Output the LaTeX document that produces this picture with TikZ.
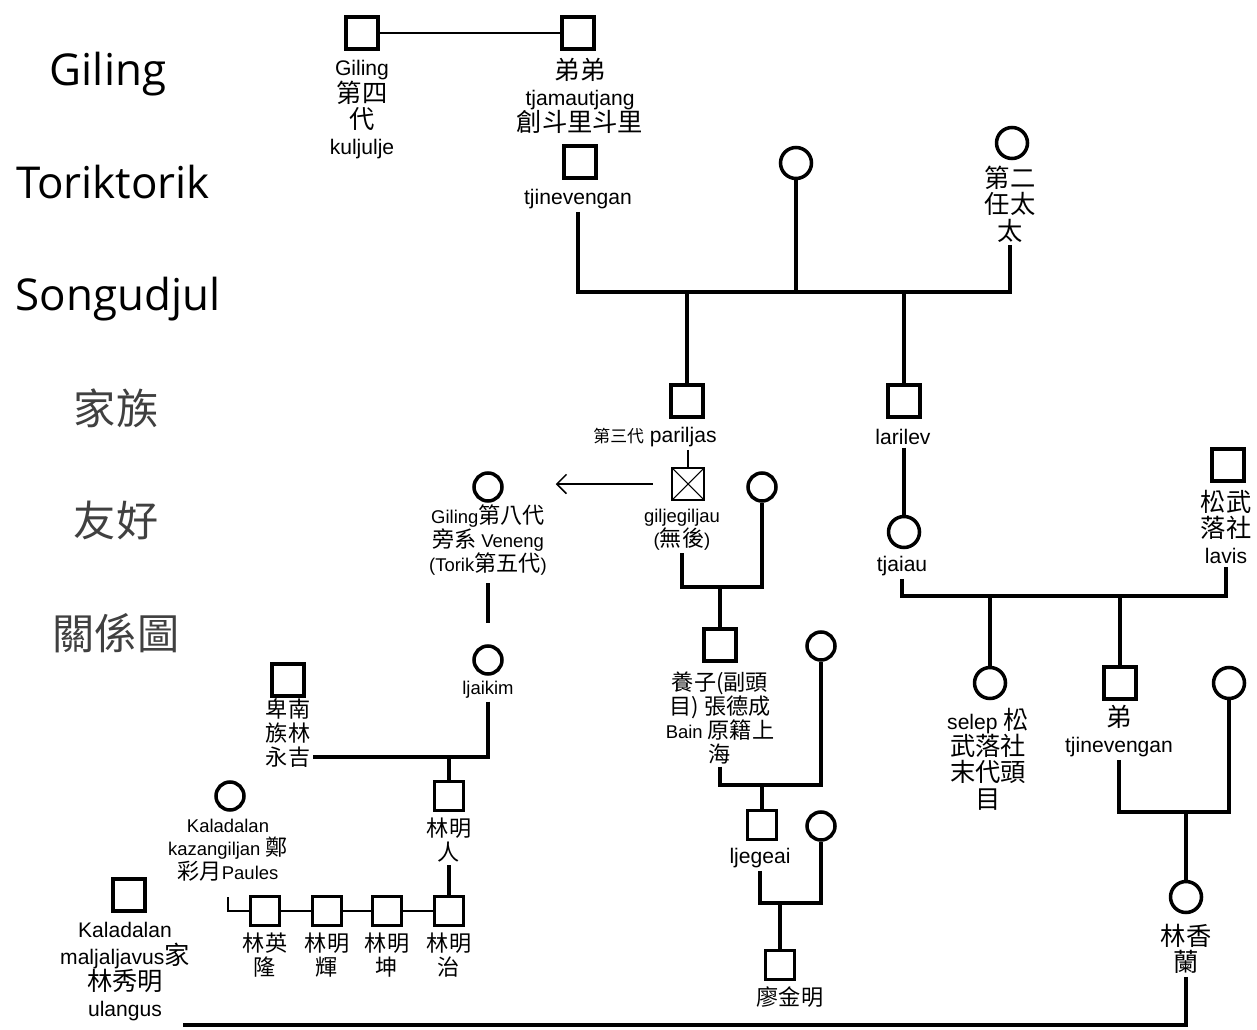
\documentclass[tikz,border=0pt]{standalone}
\usepackage{fontspec}
\setmainfont{Liberation Sans}
\newfontfamily\zhfont{Noto Sans CJK TC}[Scale=1.2]
\newfontfamily\zhsfont{Noto Sans CJK TC}[Scale=0.8]
\newfontfamily\titlefont{Open Sans}
\newfontfamily\titlezh{Noto Sans CJK TC}
\newcommand{\zh}[1]{{\zhfont #1}}
\newcommand{\zhs}[1]{{\zhsfont #1}}
\usetikzlibrary{arrows.meta}

\begin{document}
\begin{tikzpicture}[x=0.02cm,y=-0.02cm,
  man/.style={draw,line width=2.3pt,minimum size=0.64cm,inner sep=0pt},
  mans/.style={man,line width=2pt,minimum size=0.58cm},
  childless/.style={draw,line width=1.5pt,minimum size=0.64cm,inner sep=0pt,
    path picture={\draw[line width=0.6pt] (path picture bounding box.north west)--(path picture bounding box.south east)
      (path picture bounding box.north east)--(path picture bounding box.south west);}},
  woman/.style={draw,circle,line width=2pt,minimum size=0.62cm,inner sep=0pt},
  womans/.style={woman,minimum size=0.56cm},
  lbl/.style={align=center,font=\fontsize{12}{15}\selectfont,inner sep=1.5pt},
  lbls/.style={align=center,font=\fontsize{10.5}{13.5}\selectfont,inner sep=1.5pt},
  fam/.style={line width=2.1pt},
  tie/.style={line width=1.3pt},
  title/.style={anchor=base,font=\titlefont\fontsize{25}{30}\selectfont},
  titlez/.style={anchor=base,text=black!75,font=\titlezh\fontsize{24}{30}\selectfont}]
  \useasboundingbox (0,0) rectangle (1257,1030);
  % title
  \node[title] (t1) at (108,86) {Giling};
  \node[title] (t2) at (113,199) {Toriktorik};
  \node[title] (t3) at (118,311) {Songudjul};
  \node[titlez] (t4) at (116,424) {家族};
  \node[titlez] (t5) at (116,536) {友好};
  \node[titlez] (t6) at (116,649) {關係圖};
  % Giling line
  \node[man] (A) at (362,33) {};
  \node[man] (B) at (578,33) {};
  \node[lbl] (Al) at (362,110) {Giling\\\zh{第四}\\\zh{代}\\kuljulje};
  \node[lbl] (Bl) at (580,96) {\zh{弟弟}\\tjamautjang\\\zh{創斗里斗里}};
  \node[man] (C) at (580,162) {};
  \node[lbl] (Cl) at (578,199) {tjinevengan};
  \node[woman] (D) at (796,163) {};
  \node[woman] (E) at (1012,143) {};
  \node[lbl] (El) at (1010,204) {\zh{第二}\\\zh{任太}\\\zh{太}};
  \coordinate (barTop) at (796,292);
  \node[man] (F) at (687,401) {};
  \node[lbl] (Fl) at (655,437) {\zhs{第三代} pariljas};
  \node[man] (G) at (904,401) {};
  \node[lbl] (Gl) at (903,437) {larilev};
  % pariljas branch
  \node[childless] (H) at (688,484) {};
  \node[lbls] (Hl) at (682,530) {giljegiljau\\(\zh{無後})};
  \node[womans] (I) at (488,487) {};
  \node[lbls] (Il) at (488,540) {Giling\zh{第八代}\\\zh{旁系} Veneng\\(Torik\zh{第五代})};
  \node[womans] (J) at (488,660) {};
  \node[lbls] (Jl) at (488,690) {ljaikim};
  \node[man] (K) at (288,680) {};
  \node[lbls] (Kl) at (288,733) {\zh{卑南}\\\zh{族林}\\\zh{永吉}};
  \coordinate (jK) at (449,757);
  \node[mans] (L) at (449,796) {};
  \node[lbls] (Ll) at (449,840) {\zh{林明}\\\zh{人}};
  \node[womans] (M) at (230,796) {};
  \node[lbls] (Ml) at (228,850) {Kaladalan\\kazangiljan \zh{鄭}\\\zh{彩月}Paules};
  \node[mans] (c1) at (265,911) {};
  \node[mans] (c2) at (327,911) {};
  \node[mans] (c3) at (387,911) {};
  \node[mans] (c4) at (449,911) {};
  \node[lbls] (c1l) at (265,955) {\zh{林英}\\\zh{隆}};
  \node[lbls] (c2l) at (327,955) {\zh{林明}\\\zh{輝}};
  \node[lbls] (c3l) at (387,955) {\zh{林明}\\\zh{坤}};
  \node[lbls] (c4l) at (449,955) {\zh{林明}\\\zh{治}};
  \node[man] (N) at (129,895) {};
  \node[lbl] (Nl) at (125,972) {Kaladalan\\maljaljavus\zh{家}\\\zh{林秀明}\\ulangus};
  \coordinate (botL) at (183,1025);
  % adopted line
  \node[womans] (U) at (762,487) {};
  \coordinate (jU) at (720,587);
  \node[man] (V) at (720,645) {};
  \node[lbls] (Vl) at (720,718) {\zh{養子(副頭}\\\zh{目)} \zh{張德成}\\Bain \zh{原籍上}\\\zh{海}};
  \node[womans] (W) at (821,646) {};
  \coordinate (jW) at (762,785);
  \node[mans] (X) at (762,825) {};
  \node[lbl] (Xl) at (760,858) {ljegeai};
  \node[womans] (Y) at (821,826) {};
  \coordinate (jY) at (780,903);
  \node[mans] (Z) at (780,965) {};
  \node[lbls] (Zl) at (790,997) {\zh{廖金明}};
  % larilev branch
  \node[woman] (O) at (904,532) {};
  \node[lbl] (Ol) at (902,566) {tjaiau};
  \node[man] (P) at (1228,465) {};
  \node[lbl] (Pl) at (1226,527) {\zh{松武}\\\zh{落社}\\lavis};
  \coordinate (jR) at (990,596);
  \node[woman] (Q) at (990,683) {};
  \node[lbl] (Ql) at (988,759) {selep \zh{松}\\\zh{武落社}\\\zh{末代頭}\\\zh{目}};
  \node[man] (R) at (1120,683) {};
  \node[lbl] (Rl) at (1119,731) {\zh{弟}\\tjinevengan};
  \node[woman] (S) at (1229,683) {};
  \coordinate (jS) at (1186,812);
  \node[woman] (T) at (1186,897) {};
  \node[lbl] (Tl) at (1186,949) {\zh{林香}\\\zh{蘭}};
  % connectors
  \draw[tie] (A) -- (B);
  \draw[fam] (Cl.south) |- (barTop) -| (El.south);
  \draw[fam] (D) -- (barTop);
  \draw[fam] (F) -- (F |- barTop);
  \draw[fam] (G) -- (G |- barTop);
  \draw[line width=1.6pt] (H.north |- Fl.south) -- (H);
  \draw[line width=0.9pt,-{Straight Barb[length=5.5pt,width=11pt]},shorten <=0.36cm,shorten >=1.04cm] (H.west) -- (H.west -| I.east);
  \draw[fam,shorten <=0.1cm,shorten >=0.42cm] (Il.south) -- (J);
  \draw[fam] (Jl.south) |- (Kl.east |- jK);
  \draw[fam] (jK) -- (L);
  \draw[fam] (Ll.south) -- (c4);
  \draw[tie,shorten <=0.26cm] (Ml.south) |- (c1.west);
  \draw[tie] (c1) -- (c2) -- (c3) -- (c4);
  \draw[fam] (Tl.south) |- (botL);
  \draw[fam] (Hl.south) |- (jU) -| (U);
  \draw[fam] (jU) -- (V);
  \draw[fam] (Vl.south) |- (jW) -| (W);
  \draw[fam] (jW) -- (X);
  \draw[fam] (Xl.south) |- (jY) -| (Y);
  \draw[fam] (jY) -- (Z);
  \draw[fam] (O |- Gl.south) -- (O);
  \draw[fam] (Ol.south) |- (jR) -| (Pl.south);
  \draw[fam] (Q) -- (Q |- jR);
  \draw[fam] (R) -- (R |- jR);
  \draw[fam] (Rl.south) |- (jS) -| (S);
  \draw[fam] (jS) -- (T);
\end{tikzpicture}
\end{document}
